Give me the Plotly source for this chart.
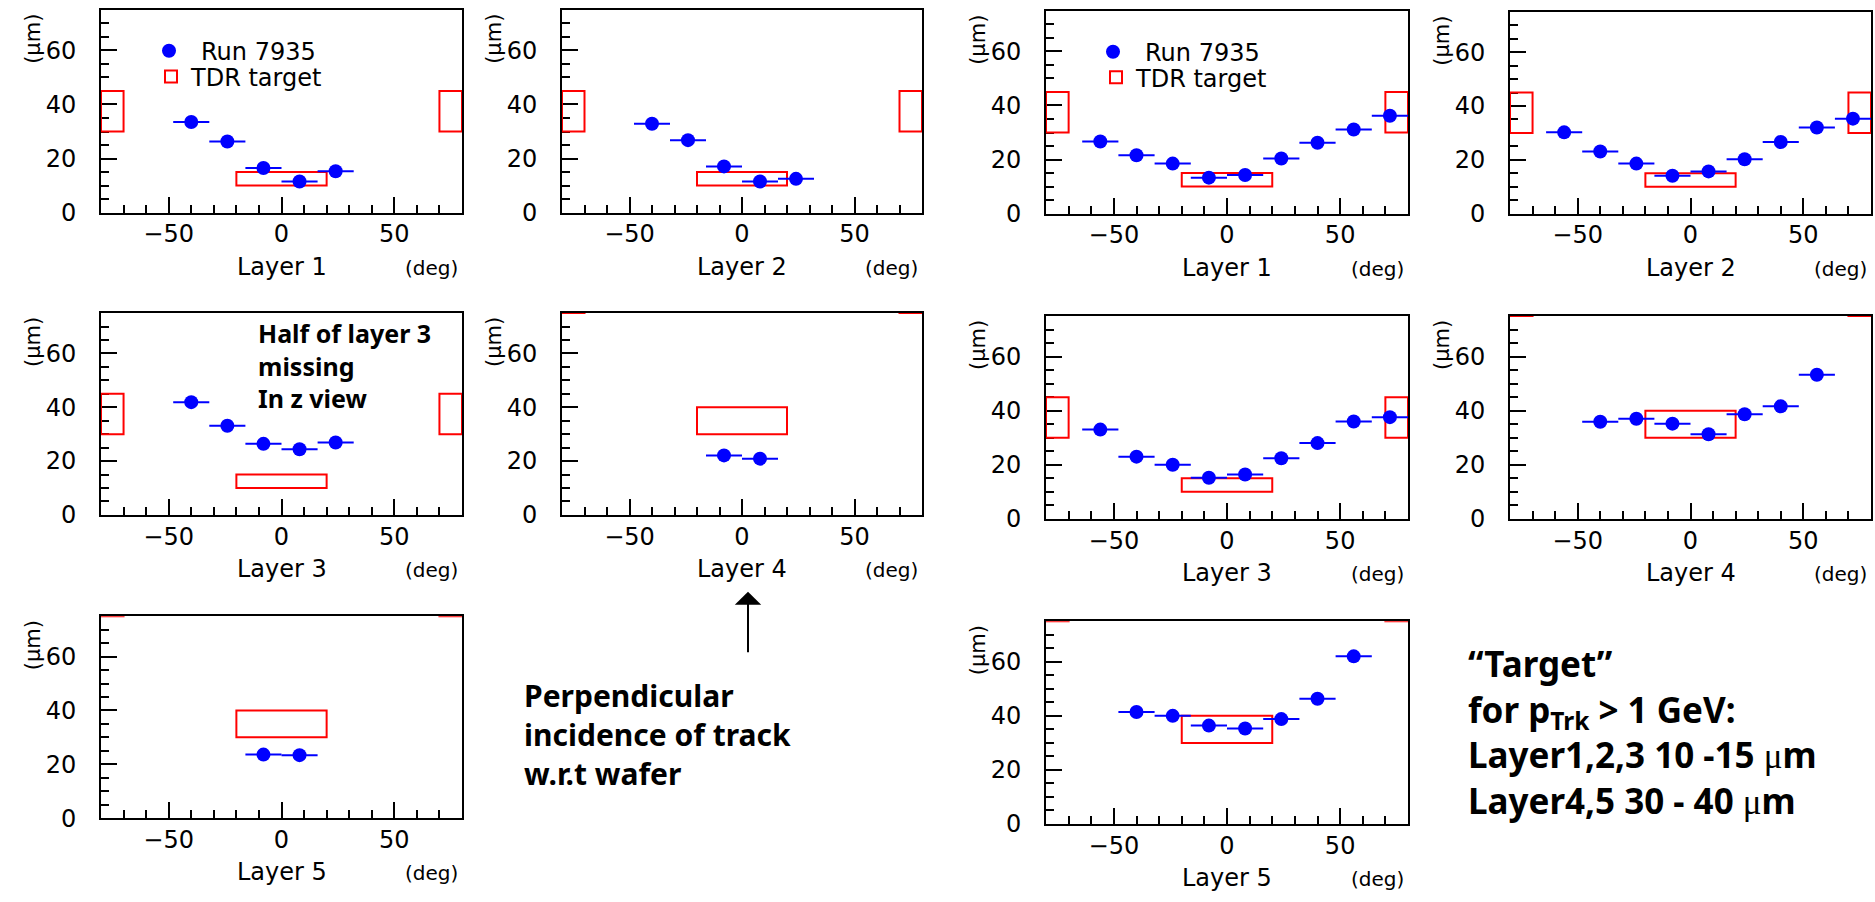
import plotly.graph_objects as go

W, H = 1875, 902

# ---------------- data ----------------
ANGLES_LEFT_5 = [-40, -24, -8, 8, 24]
ANGLES_LEFT_2 = [-8, 8]
ANGLES_RIGHT_9 = [-56, -40, -24, -8, 8, 24, 40, 56, 72]
ANGLES_RIGHT_7 = [-40, -24, -8, 8, 24, 40, 56]
ANGLE_HALF_WIDTH = 8

RES_LEFT_L1 = [33.5, 26.3, 16.5, 11.5, 15.3]
RES_LEFT_L2 = [32.9, 26.8, 17.1, 11.5, 12.5]
RES_LEFT_L3 = [41.9, 33.1, 26.4, 24.4, 26.9]
RES_LEFT_L4 = [22.1, 20.9]
RES_LEFT_L5 = [23.6, 23.4]

RES_RIGHT_L1 = [26.7, 21.6, 18.5, 13.3, 14.3, 20.4, 26.2, 31.1, 36.2]
RES_RIGHT_L2 = [30.2, 23.1, 18.6, 14.1, 15.7, 20.2, 26.6, 32.0, 35.3]
RES_RIGHT_L3 = [33.0, 23.0, 20.0, 15.2, 16.4, 22.4, 28.0, 36.0, 37.6]
RES_RIGHT_L4 = [35.9, 37.0, 35.2, 31.3, 38.7, 41.6, 53.3]
RES_RIGHT_L5 = [41.4, 40.0, 36.4, 35.3, 38.8, 46.3, 62.0]

# TDR target boxes (angle range x resolution range)
TARGET_X0 = [-80, -20, 70]
TARGET_X1 = [-70, 20, 80]
TARGET_Y0_L123 = [30, 10, 30]
TARGET_Y1_L123 = [45, 15, 45]
TARGET_Y0_L45 = [75, 30, 75]
TARGET_Y1_L45 = [95, 40, 95]

X_RANGE = [-80, 80]
Y_RANGE = [0, 75]
NAME_RUN = "\u2002Run 7935"
NAME_TDR = "TDR target"
LAYER_LABELS = ["Layer 1", "Layer 2", "Layer 3", "Layer 4", "Layer 5"]

NOTE_LAYER3 = ["Half of layer 3", "missing", "In z view"]
NOTE_PERP = ["Perpendicular", "incidence of track", "w.r.t wafer"]
MU = "<span style='font-family:Liberation Serif;font-weight:normal'>μ</span>"
NOTE_TARGET = ["\u201cTarget\u201d",
               "for p<sub>Trk</sub> &gt; 1 GeV:",
               "Layer1,2,3 10 -15 " + MU + "m",
               "Layer4,5 30 - 40 " + MU + "m"]

# ---------------- layout helpers ----------------
def px_x(p):
    return p / W


def px_y(p):
    return 1 - p / H


TICK_FONT = dict(family="DejaVu Sans", size=24, color="black")
BOLD = "Noto Sans"

panels = [
    # label, angles, values, target set, frame (left, top, right, bottom), legends
    (LAYER_LABELS[0], ANGLES_LEFT_5, RES_LEFT_L1, "123", (101, 10, 462, 216), ("legend", "legend2")),
    (LAYER_LABELS[1], ANGLES_LEFT_5, RES_LEFT_L2, "123", (562, 10, 922, 216), None),
    (LAYER_LABELS[0], ANGLES_RIGHT_9, RES_RIGHT_L1, "123", (1046, 11, 1408, 217), ("legend3", "legend4")),
    (LAYER_LABELS[1], ANGLES_RIGHT_9, RES_RIGHT_L2, "123", (1510, 12, 1871, 217), None),
    (LAYER_LABELS[2], ANGLES_LEFT_5, RES_LEFT_L3, "123", (101, 318, 462, 523), None),
    (LAYER_LABELS[3], ANGLES_LEFT_2, RES_LEFT_L4, "45", (562, 318, 922, 523), None),
    (LAYER_LABELS[2], ANGLES_RIGHT_9, RES_RIGHT_L3, "123", (1046, 321, 1408, 527), None),
    (LAYER_LABELS[3], ANGLES_RIGHT_7, RES_RIGHT_L4, "45", (1510, 321, 1871, 527), None),
    (LAYER_LABELS[4], ANGLES_LEFT_2, RES_LEFT_L5, "45", (101, 626, 462, 831), None),
    (LAYER_LABELS[4], ANGLES_RIGHT_7, RES_RIGHT_L5, "45", (1046, 631, 1408, 837), None),
]

fig = go.Figure()
layout = dict(
    width=W, height=H, autosize=False,
    margin=dict(l=0, r=0, t=0, b=0),
    paper_bgcolor="white", plot_bgcolor="white",
    showlegend=True,
    barmode="overlay",
)
annotations = []

for i, (label, angles, vals, tset, frame, legs) in enumerate(panels):
    n = "" if i == 0 else str(i + 1)
    xref, yref = "x" + n, "y" + n
    left, top, right, bottom = frame

    if tset == "123":
        y0s, y1s = TARGET_Y0_L123, TARGET_Y1_L123
    else:
        y0s, y1s = TARGET_Y0_L45, TARGET_Y1_L45
    centers = [(a + b) / 2 for a, b in zip(TARGET_X0, TARGET_X1)]
    widths = [b - a for a, b in zip(TARGET_X0, TARGET_X1)]
    heights = [b - a for a, b in zip(y0s, y1s)]

    fig.add_trace(go.Bar(
        x=centers, y=heights, base=y0s, width=widths,
        xaxis=xref, yaxis=yref,
        marker=dict(color="rgba(0,0,0,0)", line=dict(color="#ff0000", width=2)),
        name=NAME_TDR,
        showlegend=legs is not None,
        legend=legs[1] if legs else "legend",
        hoverinfo="skip",
    ))
    fig.add_trace(go.Scatter(
        x=angles, y=vals, mode="markers",
        xaxis=xref, yaxis=yref,
        marker=dict(color="#0000ff", size=14, symbol="circle"),
        error_x=dict(type="constant", value=ANGLE_HALF_WIDTH, thickness=2, width=0, color="#0000ff"),
        name=NAME_RUN,
        showlegend=legs is not None,
        legend=legs[0] if legs else "legend",
    ))

    axis_common = dict(
        showline=True, mirror=True, linecolor="black", linewidth=2,
        ticks="inside", ticklen=16, tickwidth=2, tickcolor="black",
        showgrid=False, zeroline=False, tickfont=TICK_FONT,
        fixedrange=True, layer="below traces",
    )
    layout["xaxis" + n] = dict(
        axis_common,
        domain=[px_x(left), px_x(right)], anchor=yref, range=X_RANGE,
        tickmode="linear", tick0=0, dtick=50, ticklabelstandoff=-1,
        minor=dict(tick0=0, dtick=10, ticks="inside", ticklen=8, tickwidth=2,
                   tickcolor="black", showgrid=False),
    )
    layout["yaxis" + n] = dict(
        axis_common,
        domain=[px_y(bottom), px_y(top)], anchor=xref, range=Y_RANGE,
        tickmode="linear", tick0=0, dtick=20, ticklabelstandoff=18,
        minor=dict(tick0=0, dtick=5, ticks="inside", ticklen=8, tickwidth=2,
                   tickcolor="black", showgrid=False),
    )

    annotations.append(dict(
        text="(µm)", xref=xref + " domain", yref=yref + " domain", x=0, y=1,
        xanchor="center", yanchor="top", xshift=-68, yshift=-2, textangle=-90,
        showarrow=False, font=dict(family="DejaVu Sans", size=21, color="black"),
    ))
    annotations.append(dict(
        text=label, xref=xref + " domain", yref=yref + " domain", x=0.5, y=0,
        xanchor="center", yanchor="top", yshift=-38,
        showarrow=False, font=dict(family="DejaVu Sans", size=24, color="black"),
    ))
    annotations.append(dict(
        text="(deg)", xref=xref + " domain", yref=yref + " domain", x=1, y=0,
        xanchor="right", yanchor="top", yshift=-41, xshift=-2,
        showarrow=False, font=dict(family="DejaVu Sans", size=20, color="black"),
    ))

# legends (one entry each, placed like the ROOT legend boxes)
leg_common = dict(bgcolor="rgba(0,0,0,0)", borderwidth=0, font=TICK_FONT,
                  xanchor="left", yanchor="middle", orientation="v")
layout["legend"] = dict(leg_common, x=px_x(169 - 20), y=px_y(52))
layout["legend2"] = dict(leg_common, x=px_x(171 - 20), y=px_y(78))
layout["legend3"] = dict(leg_common, x=px_x(1113 - 20), y=px_y(53))
layout["legend4"] = dict(leg_common, x=px_x(1116 - 20), y=px_y(79))


def add_block(lines, x_px, y_mid_px, size):
    annotations.append(dict(
        text="<b>" + "<br>".join(lines) + "</b>", xref="paper", yref="paper",
        x=px_x(x_px), y=px_y(y_mid_px), xanchor="left", yanchor="middle",
        align="left", showarrow=False,
        font=dict(family=BOLD, size=size, color="black"),
    ))


add_block(NOTE_LAYER3, 256, 371, 25)
add_block(NOTE_PERP, 522, 746, 30)
add_block(NOTE_TARGET, 1466, 744, 35)

# arrow pointing to the perpendicular-incidence bin
annotations.append(dict(
    text="", xref="paper", yref="paper", x=px_x(748), y=px_y(601),
    ax=0, ay=62, showarrow=True, arrowhead=1, arrowsize=2.2, arrowwidth=2,
    arrowcolor="black",
))

layout["annotations"] = annotations
fig.update_layout(**layout)
fig.write_html("out.html")
